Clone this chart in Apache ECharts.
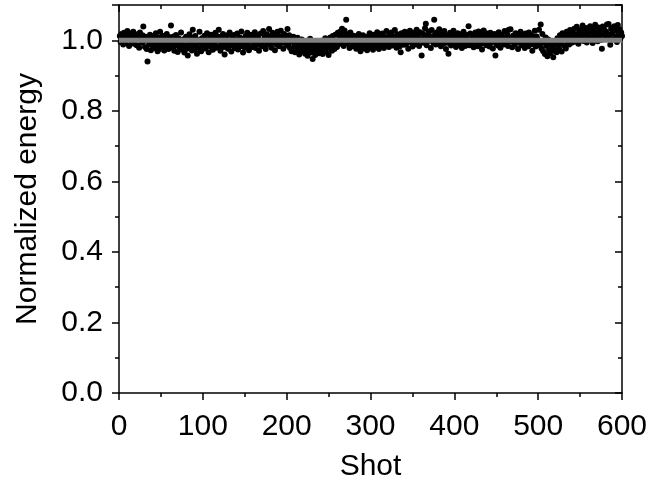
<!DOCTYPE html>
<html>
<head>
<meta charset="utf-8">
<script src="https://cdn.jsdelivr.net/npm/echarts@6/dist/echarts.min.js"></script>
<style>html,body{margin:0;padding:0;background:#fff}#chart{width:652px;height:487px}</style>
</head>
<body>
<div id="chart"></div>
<script>
// Normalized energy per shot (shot = index + 1)
const energies = [
1.012,0.995,1.018,1.004,0.988,1.021,1.009,0.992,1.015,1.026,1.003,0.984,1.011,1.019,0.997,1.007,1.024,0.990,1.013,1.002,
0.986,1.017,1.008,0.979,1.022,1.005,0.993,1.014,1.039,0.998,0.981,1.010,0.975,0.940,1.006,0.989,1.016,0.972,1.001,0.985,
1.012,0.978,0.994,1.020,0.983,0.969,1.007,0.991,1.024,0.976,0.999,1.013,0.987,0.971,1.004,0.982,1.018,0.993,0.975,1.009,
0.988,1.042,0.979,0.996,1.011,0.970,0.985,1.015,0.992,0.967,1.006,0.981,0.998,1.022,0.974,0.989,1.003,0.965,0.984,1.010,
0.976,0.957,0.993,1.017,0.980,1.008,0.971,1.030,0.990,0.975,1.012,0.985,0.962,1.001,0.978,1.024,0.994,0.969,1.006,0.983,
0.991,1.013,0.977,0.998,1.020,0.986,0.966,1.005,0.982,1.016,0.995,0.973,1.009,0.988,1.021,0.979,0.999,1.011,1.030,0.984,
0.970,1.007,0.992,1.018,0.981,0.960,1.003,0.989,1.014,0.976,0.997,1.022,0.985,0.968,1.010,0.993,1.015,0.978,1.002,0.987,
1.019,0.974,0.996,1.008,0.983,1.025,0.991,0.965,1.004,0.979,1.012,0.995,1.021,0.986,0.972,1.007,0.999,1.016,0.981,1.010,
0.993,1.023,0.978,1.005,0.988,1.014,0.970,1.001,1.019,0.984,0.996,1.026,0.982,1.009,0.975,1.017,0.990,1.003,1.032,0.987,
1.012,0.979,1.021,0.994,1.006,0.972,1.015,0.988,1.024,0.999,0.983,1.011,1.027,0.992,1.005,0.976,1.018,0.997,1.009,0.985,
1.032,0.990,1.014,0.978,1.003,0.969,0.995,1.010,0.981,0.966,0.998,0.985,1.007,0.973,0.960,0.992,0.979,1.002,0.968,0.987,
0.975,0.962,0.994,0.983,0.956,0.989,0.971,1.004,0.965,0.980,0.947,0.991,0.974,0.958,0.985,0.969,0.996,0.977,0.963,0.988,
0.972,0.999,0.961,0.984,0.976,1.006,0.967,0.990,0.979,0.958,0.993,1.008,0.982,0.970,1.012,0.987,0.975,1.016,0.995,0.981,
1.021,0.989,1.009,1.025,0.993,1.033,1.014,0.984,1.028,1.004,1.058,0.991,1.017,1.006,0.978,1.022,0.995,1.010,0.983,1.013,
0.998,0.987,0.976,1.007,0.992,1.018,0.981,0.969,1.003,0.990,1.014,0.977,0.996,1.009,0.985,0.972,1.011,0.994,1.020,0.980,
1.005,0.988,0.973,1.016,0.997,1.008,0.983,1.023,0.991,0.975,1.012,0.999,0.986,1.019,1.002,0.978,1.010,0.994,1.026,0.989,
1.007,0.981,1.015,0.996,1.022,0.985,1.011,0.992,1.029,1.003,0.979,1.017,0.994,1.008,0.983,0.966,1.020,0.998,1.013,0.987,
1.024,1.004,0.991,1.018,0.976,1.010,1.027,0.995,1.014,0.982,1.021,1.006,0.988,1.016,1.030,0.997,1.011,0.984,1.023,1.001,
0.957,1.019,0.993,1.008,1.034,1.047,0.986,1.015,1.025,0.999,1.012,0.978,1.029,1.005,0.992,1.058,1.017,0.988,1.022,1.009,
0.996,1.031,1.004,0.983,1.018,1.011,0.990,1.026,1.002,0.975,1.014,0.993,0.962,1.007,1.021,0.985,1.010,0.998,1.027,0.989,
1.013,0.981,1.006,1.020,0.994,0.987,1.017,1.002,0.978,1.011,1.024,0.991,0.984,1.008,1.015,0.997,1.040,0.986,1.019,1.003,
0.992,1.014,0.980,1.007,1.022,0.995,1.010,0.983,1.025,1.001,0.989,1.016,0.974,1.005,1.028,0.993,1.012,0.986,1.019,0.998,
1.009,0.982,1.021,0.994,1.013,0.977,1.004,1.018,0.957,0.990,1.011,0.985,1.023,1.000,0.979,1.015,0.996,1.008,0.988,1.026,
1.003,0.991,1.017,0.984,1.030,1.006,1.031,0.997,0.980,1.013,1.001,0.987,1.020,0.993,1.010,0.975,1.016,0.999,1.024,0.986,
1.012,0.990,1.005,0.978,1.019,0.995,1.008,0.983,1.022,1.001,0.988,1.014,0.970,1.009,0.996,1.027,0.982,1.011,1.004,0.991,
1.030,0.986,1.045,0.977,1.018,0.969,0.993,0.961,1.008,0.984,0.955,1.002,0.972,0.989,0.964,0.998,0.979,0.952,0.987,0.971,
0.995,0.966,1.006,0.982,0.975,1.014,0.990,0.968,1.020,1.003,0.985,1.011,0.977,1.024,0.997,1.016,0.988,1.029,1.008,0.993,
1.021,1.005,1.033,0.996,1.017,1.038,1.010,0.990,1.026,1.002,1.030,1.014,1.042,0.998,1.023,1.008,1.035,0.994,1.019,1.028,
1.011,1.040,1.003,1.025,0.992,1.032,1.016,1.044,1.007,1.021,0.997,1.036,1.013,1.027,1.001,0.976,1.039,1.018,1.030,1.009,
1.024,1.045,1.006,1.046,1.015,0.987,1.033,1.020,1.002,1.037,1.040,1.011,1.028,0.995,1.043,1.017,1.031,1.005,1.022,1.012
];
const referenceLevel = 1.0;
const xTicks = [0, 100, 200, 300, 400, 500, 600];
const yTicks = [0.0, 0.2, 0.4, 0.6, 0.8, 1.0];
const xLabelName = 'Shot';
const yLabelName = 'Normalized energy';

const FONT = 'Liberation Sans, Arial, sans-serif';
const FS = 30;
const xMin = xTicks[0], xMax = xTicks[xTicks.length - 1];
const scatterData = energies.map((v, i) => [i + 1, v]);
const refData = [[xMin, referenceLevel], [xMax, referenceLevel]];

const axisLine = { show: true, onZero: false, lineStyle: { color: '#000', width: 1.5 } };
const labelStyle = { color: '#000', fontFamily: FONT, fontSize: FS };

const chart = echarts.init(document.getElementById('chart'), null, { renderer: 'canvas' });
chart.setOption({
  animation: false,
  backgroundColor: '#fff',
  grid: { left: 119, right: 30, top: 5, bottom: 94, containLabel: false },
  xAxis: [
    {
      type: 'value', position: 'bottom', min: xMin, max: xMax, interval: 100,
      name: xLabelName, nameLocation: 'middle', nameGap: 59,
      nameTextStyle: { color: '#000', fontFamily: FONT, fontSize: FS },
      axisLine: axisLine,
      axisTick: { show: true, inside: false, length: 7, lineStyle: { color: '#000', width: 1.5 } },
      minorTick: { show: true, splitNumber: 2, length: 4, lineStyle: { color: '#000', width: 1.5 } },
      axisLabel: Object.assign({ margin: 19 }, labelStyle),
      splitLine: { show: false }
    },
    {
      type: 'value', position: 'top', min: xMin, max: xMax, interval: 100,
      axisLine: axisLine,
      axisTick: { show: true, inside: true, length: 7, lineStyle: { color: '#000', width: 1.5 } },
      minorTick: { show: true, splitNumber: 2, length: 4, lineStyle: { color: '#000', width: 1.5 } },
      axisLabel: { show: false },
      splitLine: { show: false }
    }
  ],
  yAxis: [
    {
      type: 'value', position: 'left', min: 0, max: 1.1, interval: 0.2,
      name: yLabelName, nameLocation: 'middle', nameGap: 76,
      nameTextStyle: { color: '#000', fontFamily: FONT, fontSize: FS },
      axisLine: axisLine,
      axisTick: { show: true, inside: false, length: 7, lineStyle: { color: '#000', width: 1.5 } },
      minorTick: { show: true, splitNumber: 2, length: 4, lineStyle: { color: '#000', width: 1.5 } },
      axisLabel: Object.assign({ margin: 16, formatter: v => (yTicks.some(t => Math.abs(t - v) < 1e-9) ? v.toFixed(1) : '') }, labelStyle),
      splitLine: { show: false }
    },
    {
      type: 'value', position: 'right', min: 0, max: 1.1, interval: 0.2,
      axisLine: axisLine,
      axisTick: { show: true, inside: true, length: 7, lineStyle: { color: '#000', width: 1.5 } },
      minorTick: { show: true, splitNumber: 2, length: 4, lineStyle: { color: '#000', width: 1.5 } },
      axisLabel: { show: false },
      splitLine: { show: false }
    }
  ],
  series: [
    {
      type: 'scatter', xAxisIndex: 0, yAxisIndex: 0,
      data: scatterData, symbol: 'circle', symbolSize: 6,
      itemStyle: { color: '#000', opacity: 1 }, z: 2, silent: true
    },
    {
      type: 'line', xAxisIndex: 0, yAxisIndex: 0, data: refData, z: 5, silent: true,
      symbol: 'none', lineStyle: { color: '#808080', width: 5, opacity: 1 }
    }
  ]
});
</script>
</body>
</html>
